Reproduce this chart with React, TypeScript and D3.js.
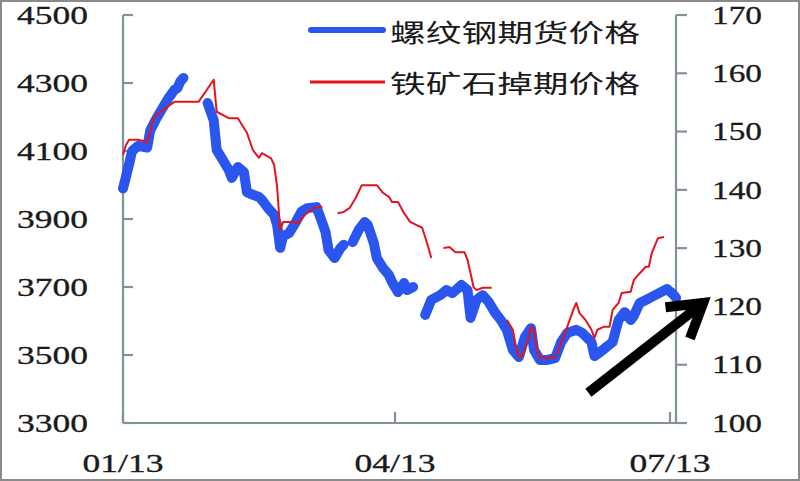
import React from "react";
import * as d3 from "d3";

// ---------- data ----------
const rebarDates: string[] = [
  "2013-01-01","2013-01-03","2013-01-04","2013-01-06","2013-01-09","2013-01-10","2013-01-12","2013-01-14","2013-01-16","2013-01-18","2013-01-19","2013-01-20","2013-01-21",
  "2013-01-25",
  "2013-01-29","2013-01-31","2013-02-01","2013-02-03","2013-02-05","2013-02-06","2013-02-08","2013-02-10","2013-02-11","2013-02-13","2013-02-15","2013-02-16","2013-02-18","2013-02-20","2013-02-21","2013-02-22","2013-02-23","2013-02-25","2013-02-27","2013-03-01","2013-03-03","2013-03-06","2013-03-07","2013-03-09","2013-03-10","2013-03-12","2013-03-14","2013-03-15",
  "2013-03-16",
  "2013-03-18","2013-03-20","2013-03-22","2013-03-23","2013-03-25","2013-03-26","2013-03-28","2013-03-30","2013-03-31","2013-04-02","2013-04-04","2013-04-05","2013-04-07",
  "2013-04-09",
  "2013-04-11","2013-04-13","2013-04-16","2013-04-18","2013-04-20","2013-04-23","2013-04-25","2013-04-26","2013-04-28","2013-04-30","2013-05-02","2013-05-04","2013-05-06","2013-05-08","2013-05-10","2013-05-12","2013-05-14","2013-05-16","2013-05-17","2013-05-19","2013-05-21","2013-05-24","2013-05-26","2013-05-28","2013-05-31","2013-06-02","2013-06-05","2013-06-06","2013-06-08","2013-06-10","2013-06-12","2013-06-14","2013-06-16","2013-06-18","2013-06-19","2013-06-21","2013-06-23","2013-06-25","2013-06-28","2013-06-30","2013-07-02","2013-07-03",
];
const rebarPrices: (number | null)[] = [
  3990,4060,4100,4115,4110,4160,4195,4225,4255,4280,4285,4305,4315,
  null,
  4241,4191,4103,4074,4044,4021,4053,4038,3979,3971,3965,3956,3932,3912,3882,3815,3850,3859,3888,3921,3932,3935,3912,3862,3809,3785,3815,3824,
  null,
  3832,3868,3891,3882,3829,3785,3756,3735,3715,3685,3712,3691,3700,
  null,
  3618,3662,3676,3691,3682,3706,3691,3609,3662,3676,3656,3626,3603,3574,3515,3494,3553,3579,3515,3485,3485,3491,3538,3565,3574,3565,3538,3497,3509,3524,3538,3603,3626,3603,3615,3653,3662,3671,3685,3694,3679,3668,
];

const oreDates: string[] = [
  "2013-01-01","2013-01-02","2013-01-03","2013-01-06","2013-01-09","2013-01-10","2013-01-11","2013-01-13","2013-01-15","2013-01-18","2013-01-26","2013-01-31","2013-02-01","2013-02-05","2013-02-08","2013-02-11","2013-02-13","2013-02-15","2013-02-16","2013-02-19","2013-02-20","2013-02-21","2013-02-22","2013-02-23","2013-02-26","2013-02-28","2013-03-02","2013-03-05","2013-03-08",
  "2013-03-10",
  "2013-03-13","2013-03-15","2013-03-17","2013-03-19","2013-03-21","2013-03-24","2013-03-26","2013-03-28","2013-03-30","2013-03-31","2013-04-02","2013-04-04","2013-04-06","2013-04-08","2013-04-10","2013-04-12","2013-04-13",
  "2013-04-15",
  "2013-04-17","2013-04-19","2013-04-21","2013-04-24","2013-04-25","2013-04-26","2013-04-27","2013-04-28","2013-04-30","2013-05-03",
  "2013-05-05",
  "2013-05-08","2013-05-10","2013-05-11","2013-05-12","2013-05-13","2013-05-15","2013-05-16","2013-05-17","2013-05-18","2013-05-19","2013-05-21","2013-05-24","2013-05-26","2013-05-28","2013-05-30","2013-05-31","2013-06-01","2013-06-03","2013-06-05","2013-06-06","2013-06-07","2013-06-09","2013-06-11","2013-06-12","2013-06-14","2013-06-15","2013-06-18","2013-06-19","2013-06-21","2013-06-23","2013-06-24","2013-06-25","2013-06-27","2013-06-29",
];
const orePrices: (number | null)[] = [
  146.0,147.7,148.6,148.6,148.2,149.9,152.3,153.2,154.0,155.1,155.1,158.9,153.4,152.3,152.3,149.8,146.8,145.5,146.3,145.4,144.3,140.5,133.1,134.5,134.5,134.3,135.6,136.9,137.1,
  null,
  136.0,136.2,136.9,138.6,140.8,140.8,140.8,139.5,138.8,137.9,137.9,136.0,134.5,134.0,133.5,130.2,128.3,
  null,
  130.0,130.2,129.3,129.3,128.0,125.7,123.3,122.8,123.2,123.2,
  null,
  117.7,116.0,113.1,111.3,111.3,114.3,116.5,116.0,112.5,111.2,111.2,111.3,113.7,116.5,119.4,120.6,118.9,117.7,116.0,114.6,116.0,116.5,116.5,119.4,120.6,122.3,122.5,124.5,125.7,126.8,126.8,129.2,131.7,131.9,
];

const leftTicks = [3300, 3500, 3700, 3900, 4100, 4300, 4500];
const rightTicks = [100, 110, 120, 130, 140, 150, 160, 170];
const xTickDates = ["2013-01-01", "2013-04-01", "2013-07-01"];
const seriesNames = ["螺纹钢期货价格", "铁矿石掉期价格"];
// arrow annotation in data space (date, right-axis value)
const arrowFrom: [string, number] = ["2013-06-04", 105.2];
const arrowTo: [string, number] = ["2013-07-12", 120.6];

// ---------- chart ----------
const W = 800, H = 481;
const axisColor = "#7f939b";
const blue = "#2a55ee";
const red = "#e4141e";
const textColor = "#1a1a1a";
const parse = d3.timeParse("%Y-%m-%d");

export default function App() {
  const x = d3.scaleTime()
    .domain([parse("2013-01-01")!, parse("2013-07-01")!])
    .range([123, 670]);
  const yL = d3.scaleLinear().domain([3300, 4500]).range([423, 15]);
  const yR = d3.scaleLinear().domain([100, 170]).range([423, 15]);
  const xRight = 676;
  const fmt = d3.timeFormat("%m/%y");

  type P = { d: Date; v: number | null };
  const rebar: P[] = rebarDates.map((s, i) => ({ d: parse(s)!, v: rebarPrices[i] }));
  const ore: P[] = oreDates.map((s, i) => ({ d: parse(s)!, v: orePrices[i] }));

  const lineL = d3.line<P>().defined(p => p.v != null).x(p => x(p.d)).y(p => yL(p.v as number));
  const lineR = d3.line<P>().defined(p => p.v != null).x(p => x(p.d)).y(p => yR(p.v as number));

  const ax0 = x(parse(arrowFrom[0])!), ay0 = yR(arrowFrom[1]);
  const ax1 = x(parse(arrowTo[0])!), ay1 = yR(arrowTo[1]);
  const ang = Math.atan2(ay1 - ay0, ax1 - ax0);
  const hl = 38, ha = 0.55;
  const h1 = [ax1 - hl * Math.cos(ang - ha), ay1 - hl * Math.sin(ang - ha)];
  const h2 = [ax1 - hl * Math.cos(ang + ha), ay1 - hl * Math.sin(ang + ha)];

  const numFont = "'Liberation Serif', 'Times New Roman', serif";
  const cjkFont = "'Noto Sans CJK SC', sans-serif";

  return (
    <svg width={W} height={H} style={{ position: "absolute", left: 0, top: 0, background: "#fff" }}>
      <rect x={1} y={1} width={W - 2} height={H - 2} fill="#fff" stroke="#8a8a8a" strokeWidth={2} />

      {/* left axis */}
      <line x1={123} y1={yL(4500)} x2={123} y2={423} stroke={axisColor} strokeWidth={2.2} />
      {leftTicks.map(t => (
        <g key={"l" + t}>
          <line x1={123} x2={133} y1={yL(t)} y2={yL(t)} stroke={axisColor} strokeWidth={2.2} />
          <text x={88} y={yL(t)} dy="0.35em" textAnchor="end" fontFamily={numFont} fontSize={25}
            fill={textColor} stroke={textColor} strokeWidth={0.3}
            textLength={71} lengthAdjust="spacingAndGlyphs">{t}</text>
        </g>
      ))}

      {/* right axis */}
      <line x1={xRight} y1={yR(170)} x2={xRight} y2={423} stroke={axisColor} strokeWidth={2.2} />
      {rightTicks.map(t => (
        <g key={"r" + t}>
          <line x1={xRight} x2={xRight + 11} y1={yR(t)} y2={yR(t)} stroke={axisColor} strokeWidth={2.2} />
          <text x={712} y={yR(t)} dy="0.35em" textAnchor="start" fontFamily={numFont} fontSize={25}
            fill={textColor} stroke={textColor} strokeWidth={0.3}
            textLength={50} lengthAdjust="spacingAndGlyphs">{t}</text>
        </g>
      ))}

      {/* bottom axis */}
      <line x1={123} y1={423} x2={xRight} y2={423} stroke={axisColor} strokeWidth={2.2} />
      {xTickDates.map(s => {
        const d = parse(s)!;
        return (
          <g key={s}>
            <line x1={x(d)} x2={x(d)} y1={423} y2={412} stroke={axisColor} strokeWidth={2.2} />
            <text x={x(d)} y={472} textAnchor="middle" fontFamily={numFont} fontSize={25}
              fill={textColor} stroke={textColor} strokeWidth={0.3}
              textLength={81} lengthAdjust="spacingAndGlyphs">{fmt(d)}</text>
          </g>
        );
      })}

      {/* series */}
      <path d={lineL(rebar) || ""} fill="none" stroke={blue} strokeWidth={10}
        strokeLinecap="round" strokeLinejoin="round" />
      <path d={lineR(ore) || ""} fill="none" stroke={red} strokeWidth={2}
        strokeLinejoin="round" />

      {/* legend */}
      <line x1={311} x2={383} y1={30} y2={30} stroke={blue} strokeWidth={6} strokeLinecap="round" />
      <text x={390} y={33} dy="0.35em" fontFamily={cjkFont} fontSize={25} fill={textColor}
        textLength={250} lengthAdjust="spacingAndGlyphs">{seriesNames[0]}</text>
      <line x1={310} x2={385} y1={82} y2={82} stroke={red} strokeWidth={3} />
      <text x={390} y={84} dy="0.35em" fontFamily={cjkFont} fontSize={25} fill={textColor}
        textLength={250} lengthAdjust="spacingAndGlyphs">{seriesNames[1]}</text>

      {/* arrow */}
      <line x1={ax0} y1={ay0} x2={ax1 - 4 * Math.cos(ang)} y2={ay1 - 4 * Math.sin(ang)}
        stroke="#000" strokeWidth={10} />
      <polyline points={`${h1[0]},${h1[1]} ${ax1},${ay1} ${h2[0]},${h2[1]}`} fill="none"
        stroke="#000" strokeWidth={10} strokeLinejoin="miter" strokeMiterlimit={6} />
    </svg>
  );
}
